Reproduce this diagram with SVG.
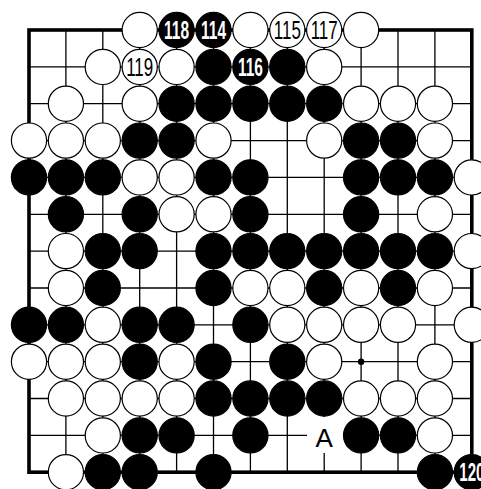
<svg xmlns="http://www.w3.org/2000/svg" width="481" height="489" viewBox="0 0 481 489">
<style>
.g{stroke:#000;stroke-width:1.3;fill:none}
.e{stroke:#000;stroke-width:3.6;fill:none}
.b{fill:#000;stroke:#000;stroke-width:1.2}
.w{fill:#fff;stroke:#000;stroke-width:1.2}
.nw{font-family:"Liberation Sans",Arial,sans-serif;font-size:25px;fill:#000;text-anchor:middle}
.nb{font-family:"Liberation Sans",Arial,sans-serif;font-size:25px;font-weight:bold;fill:#fff;text-anchor:middle}
.lbl{font-family:"Liberation Sans",Arial,sans-serif;font-size:26px;fill:#000;text-anchor:middle}
</style>
<rect x="0" y="0" width="481" height="489" fill="#fff"/>
<g id="connectors">
<path class="g" d="M65.9 30V472.2M102.8 30V472.2M139.7 30V472.2M176.6 30V472.2M213.5 30V472.2M250.4 30V472.2M287.3 30V472.2M324.2 30V472.2M361.1 30V472.2M398 30V472.2M434.9 30V472.2"/>
<path class="g" d="M29 66.9H471.8M29 103.7H471.8M29 140.6H471.8M29 177.4H471.8M29 214.3H471.8M29 251.1H471.8M29 288H471.8M29 324.8H471.8M29 361.7H471.8M29 398.5H471.8M29 435.4H471.8"/>
<rect class="e" x="29" y="30" width="442.8" height="442.2"/>
<circle cx="361.1" cy="361.7" r="3.2" fill="#000"/>
</g>
<!-- row 0 -->
<g id="r0c3"><circle class="w" cx="139.7" cy="30" r="17.6"/></g>
<g id="r0c4"><circle class="b" cx="176.6" cy="30" r="17.6"/><text class="nb" x="176.6" y="39" textLength="25" lengthAdjust="spacingAndGlyphs">118</text></g>
<g id="r0c5"><circle class="b" cx="213.5" cy="30" r="17.6"/><text class="nb" x="213.5" y="39" textLength="25" lengthAdjust="spacingAndGlyphs">114</text></g>
<g id="r0c6"><circle class="w" cx="250.4" cy="30" r="17.6"/></g>
<g id="r0c7"><circle class="w" cx="287.3" cy="30" r="17.6"/><text class="nw" x="287.3" y="39" textLength="27" lengthAdjust="spacingAndGlyphs">115</text></g>
<g id="r0c8"><circle class="w" cx="324.2" cy="30" r="17.6"/><text class="nw" x="324.2" y="39" textLength="27" lengthAdjust="spacingAndGlyphs">117</text></g>
<g id="r0c9"><circle class="w" cx="361.1" cy="30" r="17.6"/></g>
<!-- row 1 -->
<g id="r1c2"><circle class="w" cx="102.8" cy="66.9" r="17.6"/></g>
<g id="r1c3"><circle class="w" cx="139.7" cy="66.9" r="17.6"/><text class="nw" x="139.7" y="75.9" textLength="27" lengthAdjust="spacingAndGlyphs">119</text></g>
<g id="r1c4"><circle class="w" cx="176.6" cy="66.9" r="17.6"/></g>
<g id="r1c5"><circle class="b" cx="213.5" cy="66.9" r="17.6"/></g>
<g id="r1c6"><circle class="b" cx="250.4" cy="66.9" r="17.6"/><text class="nb" x="250.4" y="75.9" textLength="25" lengthAdjust="spacingAndGlyphs">116</text></g>
<g id="r1c7"><circle class="b" cx="287.3" cy="66.9" r="17.6"/></g>
<g id="r1c8"><circle class="w" cx="324.2" cy="66.9" r="17.6"/></g>
<!-- row 2 -->
<g id="r2c1"><circle class="w" cx="65.9" cy="103.7" r="17.6"/></g>
<g id="r2c3"><circle class="w" cx="139.7" cy="103.7" r="17.6"/></g>
<g id="r2c4"><circle class="b" cx="176.6" cy="103.7" r="17.6"/></g>
<g id="r2c5"><circle class="b" cx="213.5" cy="103.7" r="17.6"/></g>
<g id="r2c6"><circle class="b" cx="250.4" cy="103.7" r="17.6"/></g>
<g id="r2c7"><circle class="b" cx="287.3" cy="103.7" r="17.6"/></g>
<g id="r2c8"><circle class="b" cx="324.2" cy="103.7" r="17.6"/></g>
<g id="r2c9"><circle class="w" cx="361.1" cy="103.7" r="17.6"/></g>
<g id="r2c10"><circle class="w" cx="398" cy="103.7" r="17.6"/></g>
<g id="r2c11"><circle class="w" cx="434.9" cy="103.7" r="17.6"/></g>
<!-- row 3 -->
<g id="r3c0"><circle class="w" cx="29" cy="140.6" r="17.6"/></g>
<g id="r3c1"><circle class="w" cx="65.9" cy="140.6" r="17.6"/></g>
<g id="r3c2"><circle class="w" cx="102.8" cy="140.6" r="17.6"/></g>
<g id="r3c3"><circle class="b" cx="139.7" cy="140.6" r="17.6"/></g>
<g id="r3c4"><circle class="b" cx="176.6" cy="140.6" r="17.6"/></g>
<g id="r3c5"><circle class="w" cx="213.5" cy="140.6" r="17.6"/></g>
<g id="r3c8"><circle class="w" cx="324.2" cy="140.6" r="17.6"/></g>
<g id="r3c9"><circle class="b" cx="361.1" cy="140.6" r="17.6"/></g>
<g id="r3c10"><circle class="b" cx="398" cy="140.6" r="17.6"/></g>
<g id="r3c11"><circle class="w" cx="434.9" cy="140.6" r="17.6"/></g>
<!-- row 4 -->
<g id="r4c0"><circle class="b" cx="29" cy="177.4" r="17.6"/></g>
<g id="r4c1"><circle class="b" cx="65.9" cy="177.4" r="17.6"/></g>
<g id="r4c2"><circle class="b" cx="102.8" cy="177.4" r="17.6"/></g>
<g id="r4c3"><circle class="w" cx="139.7" cy="177.4" r="17.6"/></g>
<g id="r4c4"><circle class="w" cx="176.6" cy="177.4" r="17.6"/></g>
<g id="r4c5"><circle class="b" cx="213.5" cy="177.4" r="17.6"/></g>
<g id="r4c6"><circle class="b" cx="250.4" cy="177.4" r="17.6"/></g>
<g id="r4c9"><circle class="b" cx="361.1" cy="177.4" r="17.6"/></g>
<g id="r4c10"><circle class="b" cx="398" cy="177.4" r="17.6"/></g>
<g id="r4c11"><circle class="b" cx="434.9" cy="177.4" r="17.6"/></g>
<g id="r4c12"><circle class="w" cx="471.8" cy="177.4" r="17.6"/></g>
<!-- row 5 -->
<g id="r5c1"><circle class="b" cx="65.9" cy="214.3" r="17.6"/></g>
<g id="r5c3"><circle class="b" cx="139.7" cy="214.3" r="17.6"/></g>
<g id="r5c4"><circle class="w" cx="176.6" cy="214.3" r="17.6"/></g>
<g id="r5c5"><circle class="w" cx="213.5" cy="214.3" r="17.6"/></g>
<g id="r5c6"><circle class="b" cx="250.4" cy="214.3" r="17.6"/></g>
<g id="r5c9"><circle class="b" cx="361.1" cy="214.3" r="17.6"/></g>
<g id="r5c11"><circle class="w" cx="434.9" cy="214.3" r="17.6"/></g>
<!-- row 6 -->
<g id="r6c1"><circle class="w" cx="65.9" cy="251.1" r="17.6"/></g>
<g id="r6c2"><circle class="b" cx="102.8" cy="251.1" r="17.6"/></g>
<g id="r6c3"><circle class="b" cx="139.7" cy="251.1" r="17.6"/></g>
<g id="r6c5"><circle class="b" cx="213.5" cy="251.1" r="17.6"/></g>
<g id="r6c6"><circle class="b" cx="250.4" cy="251.1" r="17.6"/></g>
<g id="r6c7"><circle class="b" cx="287.3" cy="251.1" r="17.6"/></g>
<g id="r6c8"><circle class="b" cx="324.2" cy="251.1" r="17.6"/></g>
<g id="r6c9"><circle class="b" cx="361.1" cy="251.1" r="17.6"/></g>
<g id="r6c10"><circle class="b" cx="398" cy="251.1" r="17.6"/></g>
<g id="r6c11"><circle class="b" cx="434.9" cy="251.1" r="17.6"/></g>
<g id="r6c12"><circle class="w" cx="471.8" cy="251.1" r="17.6"/></g>
<!-- row 7 -->
<g id="r7c1"><circle class="w" cx="65.9" cy="288" r="17.6"/></g>
<g id="r7c2"><circle class="b" cx="102.8" cy="288" r="17.6"/></g>
<g id="r7c5"><circle class="b" cx="213.5" cy="288" r="17.6"/></g>
<g id="r7c6"><circle class="w" cx="250.4" cy="288" r="17.6"/></g>
<g id="r7c7"><circle class="w" cx="287.3" cy="288" r="17.6"/></g>
<g id="r7c8"><circle class="b" cx="324.2" cy="288" r="17.6"/></g>
<g id="r7c9"><circle class="w" cx="361.1" cy="288" r="17.6"/></g>
<g id="r7c10"><circle class="b" cx="398" cy="288" r="17.6"/></g>
<g id="r7c11"><circle class="w" cx="434.9" cy="288" r="17.6"/></g>
<!-- row 8 -->
<g id="r8c0"><circle class="b" cx="29" cy="324.8" r="17.6"/></g>
<g id="r8c1"><circle class="b" cx="65.9" cy="324.8" r="17.6"/></g>
<g id="r8c2"><circle class="w" cx="102.8" cy="324.8" r="17.6"/></g>
<g id="r8c3"><circle class="b" cx="139.7" cy="324.8" r="17.6"/></g>
<g id="r8c4"><circle class="b" cx="176.6" cy="324.8" r="17.6"/></g>
<g id="r8c6"><circle class="b" cx="250.4" cy="324.8" r="17.6"/></g>
<g id="r8c7"><circle class="w" cx="287.3" cy="324.8" r="17.6"/></g>
<g id="r8c8"><circle class="w" cx="324.2" cy="324.8" r="17.6"/></g>
<g id="r8c9"><circle class="w" cx="361.1" cy="324.8" r="17.6"/></g>
<g id="r8c10"><circle class="w" cx="398" cy="324.8" r="17.6"/></g>
<g id="r8c12"><circle class="w" cx="471.8" cy="324.8" r="17.6"/></g>
<!-- row 9 -->
<g id="r9c0"><circle class="w" cx="29" cy="361.7" r="17.6"/></g>
<g id="r9c1"><circle class="w" cx="65.9" cy="361.7" r="17.6"/></g>
<g id="r9c2"><circle class="w" cx="102.8" cy="361.7" r="17.6"/></g>
<g id="r9c3"><circle class="b" cx="139.7" cy="361.7" r="17.6"/></g>
<g id="r9c4"><circle class="w" cx="176.6" cy="361.7" r="17.6"/></g>
<g id="r9c5"><circle class="b" cx="213.5" cy="361.7" r="17.6"/></g>
<g id="r9c7"><circle class="b" cx="287.3" cy="361.7" r="17.6"/></g>
<g id="r9c8"><circle class="w" cx="324.2" cy="361.7" r="17.6"/></g>
<g id="r9c11"><circle class="w" cx="434.9" cy="361.7" r="17.6"/></g>
<!-- row 10 -->
<g id="r10c1"><circle class="w" cx="65.9" cy="398.5" r="17.6"/></g>
<g id="r10c2"><circle class="w" cx="102.8" cy="398.5" r="17.6"/></g>
<g id="r10c3"><circle class="w" cx="139.7" cy="398.5" r="17.6"/></g>
<g id="r10c4"><circle class="w" cx="176.6" cy="398.5" r="17.6"/></g>
<g id="r10c5"><circle class="b" cx="213.5" cy="398.5" r="17.6"/></g>
<g id="r10c6"><circle class="b" cx="250.4" cy="398.5" r="17.6"/></g>
<g id="r10c7"><circle class="b" cx="287.3" cy="398.5" r="17.6"/></g>
<g id="r10c8"><circle class="b" cx="324.2" cy="398.5" r="17.6"/></g>
<g id="r10c9"><circle class="w" cx="361.1" cy="398.5" r="17.6"/></g>
<g id="r10c10"><circle class="w" cx="398" cy="398.5" r="17.6"/></g>
<g id="r10c11"><circle class="w" cx="434.9" cy="398.5" r="17.6"/></g>
<!-- row 11 -->
<g id="r11c2"><circle class="w" cx="102.8" cy="435.4" r="17.6"/></g>
<g id="r11c3"><circle class="b" cx="139.7" cy="435.4" r="17.6"/></g>
<g id="r11c4"><circle class="b" cx="176.6" cy="435.4" r="17.6"/></g>
<g id="r11c6"><circle class="b" cx="250.4" cy="435.4" r="17.6"/></g>
<g id="labelA"><rect x="307" y="417" width="36" height="36" fill="#fff"/><text class="lbl" x="324.2" y="446.5">A</text></g>
<g id="r11c9"><circle class="b" cx="361.1" cy="435.4" r="17.6"/></g>
<g id="r11c10"><circle class="b" cx="398" cy="435.4" r="17.6"/></g>
<g id="r11c11"><circle class="w" cx="434.9" cy="435.4" r="17.6"/></g>
<!-- row 12 -->
<g id="r12c1"><circle class="w" cx="65.9" cy="472.2" r="17.6"/></g>
<g id="r12c2"><circle class="b" cx="102.8" cy="472.2" r="17.6"/></g>
<g id="r12c3"><circle class="b" cx="139.7" cy="472.2" r="17.6"/></g>
<g id="r12c5"><circle class="b" cx="213.5" cy="472.2" r="17.6"/></g>
<g id="r12c11"><circle class="b" cx="434.9" cy="472.2" r="17.6"/></g>
<g id="r12c12"><circle class="b" cx="471.8" cy="472.2" r="17.6"/><text class="nb" x="471.8" y="481" textLength="25" lengthAdjust="spacingAndGlyphs">120</text></g>
</svg>
